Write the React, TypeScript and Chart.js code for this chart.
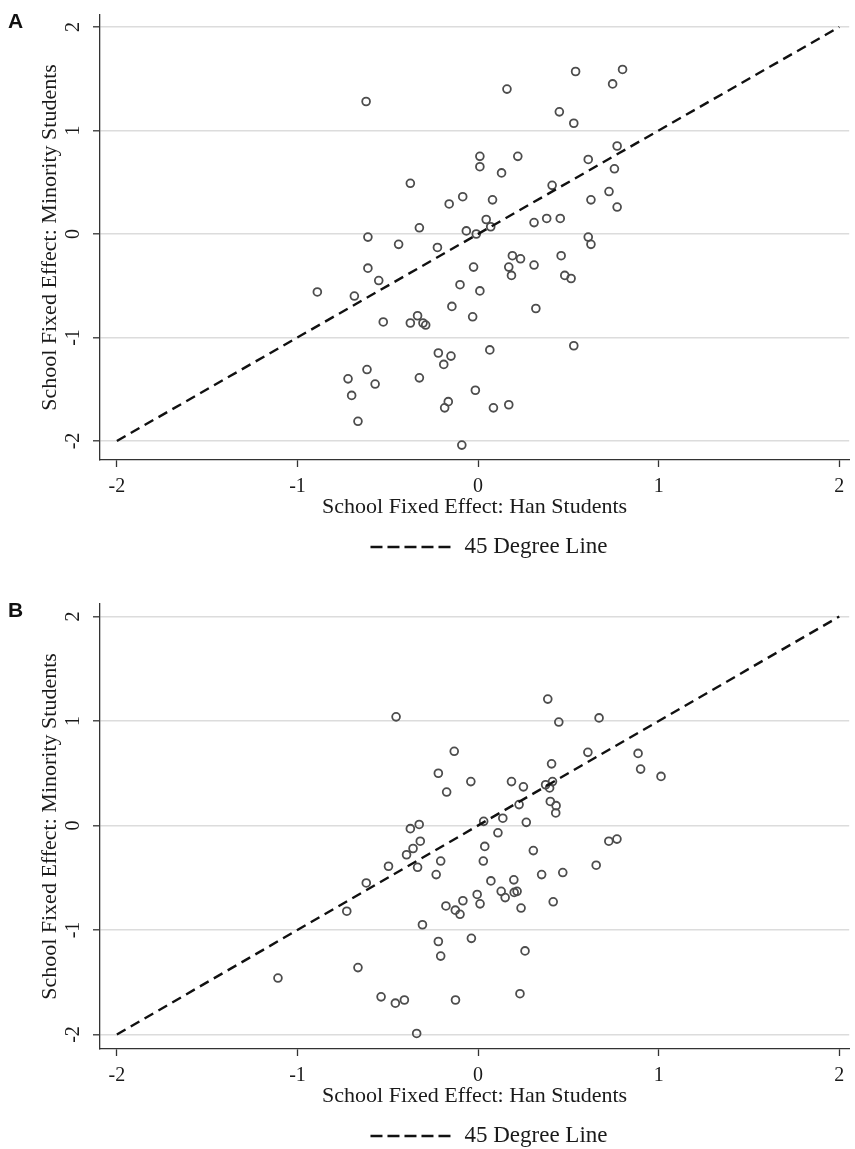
import React, { useEffect, useRef } from "react";
import { Chart, registerables } from "chart.js";

Chart.register(...registerables);

// ---------- data ----------
const X_TICKS = [-2, -1, 0, 1, 2];
const Y_TICKS = [-2, -1, 0, 1, 2];
const X_TITLE = "School Fixed Effect: Han Students";
const Y_TITLE = "School Fixed Effect: Minority Students";
const LINE_LABEL = "45 Degree Line";
const LINE_X = [-2, 2];
const LINE_Y = [-2, 2];

// Panel A: school fixed effects (Han x, Minority y)
const A_HAN = [
  -0.62, 0.16, 0.54, 0.8, 0.745, 0.45, 0.53, 0.01, 0.01, 0.22,
  0.13, -0.375, 0.41, -0.085, -0.16, 0.08, 0.045, 0.07, 0.31, 0.38,
  0.455, -0.065, -0.01, -0.325, -0.61, -0.44, -0.225, 0.77, 0.61, 0.755,
  0.725, 0.625, 0.77, 0.61, 0.625, 0.19, 0.235, 0.46, -0.025, 0.17,
  0.185, 0.31, 0.48, 0.515, -0.61, -0.55, -0.89, -0.685, -0.1, 0.01,
  -0.145, -0.03, 0.32, -0.525, -0.375, -0.335, -0.305, -0.29, 0.53, 0.065,
  -0.22, -0.15, -0.19, -0.615, -0.72, -0.57, -0.325, -0.7, -0.015, -0.165,
  -0.185, 0.085, 0.17, -0.665, -0.09,
];
const A_MIN = [
  1.28, 1.4, 1.57, 1.59, 1.45, 1.18, 1.07, 0.75, 0.65, 0.75,
  0.59, 0.49, 0.47, 0.36, 0.29, 0.33, 0.14, 0.07, 0.11, 0.15,
  0.15, 0.03, 0.0, 0.06, -0.03, -0.1, -0.13, 0.85, 0.72, 0.63,
  0.41, 0.33, 0.26, -0.03, -0.1, -0.21, -0.24, -0.21, -0.32, -0.32,
  -0.4, -0.3, -0.4, -0.43, -0.33, -0.45, -0.56, -0.6, -0.49, -0.55,
  -0.7, -0.8, -0.72, -0.85, -0.86, -0.79, -0.86, -0.88, -1.08, -1.12,
  -1.15, -1.18, -1.26, -1.31, -1.4, -1.45, -1.39, -1.56, -1.51, -1.62,
  -1.68, -1.68, -1.65, -1.81, -2.04,
];

// Panel B
const B_HAN = [
  -0.454, -0.132, -0.22, -0.174, -0.04, -0.375, -0.326, -0.32, -0.36, -0.396,
  0.386, 0.447, 0.67, 0.608, 0.886, 0.9, 1.013, 0.407, 0.185, 0.251,
  0.374, 0.412, 0.396, 0.227, 0.4, 0.432, 0.43, 0.031, 0.137, 0.267,
  0.11, 0.037, 0.724, 0.769, 0.306, -0.496, -0.335, -0.207, -0.232, -0.619,
  -0.727, -0.178, -0.126, -0.1, -0.084, -0.308, -0.037, -0.22, -0.207, -1.108,
  -0.665, -0.537, -0.458, -0.408, -0.125, -0.34, 0.029, 0.654, 0.469, 0.352,
  0.071, 0.198, -0.005, 0.011, 0.128, 0.15, 0.2, 0.216, 0.238, 0.416,
  0.26, 0.232,
];
const B_MIN = [
  1.04, 0.71, 0.5, 0.32, 0.42, -0.03, 0.01, -0.15, -0.22, -0.28,
  1.21, 0.99, 1.03, 0.7, 0.69, 0.54, 0.47, 0.59, 0.42, 0.37,
  0.39, 0.42, 0.36, 0.2, 0.23, 0.19, 0.12, 0.04, 0.07, 0.03,
  -0.07, -0.2, -0.15, -0.13, -0.24, -0.39, -0.4, -0.34, -0.47, -0.55,
  -0.82, -0.77, -0.81, -0.85, -0.72, -0.95, -1.08, -1.11, -1.25, -1.46,
  -1.36, -1.64, -1.7, -1.67, -1.67, -1.99, -0.34, -0.38, -0.45, -0.47,
  -0.53, -0.52, -0.66, -0.75, -0.63, -0.69, -0.64, -0.63, -0.79, -0.73,
  -1.2, -1.61,
];

// ---------- layout / styles ----------
const W = 855;
const H = 560;
const SERIF = "'Liberation Serif', 'Times New Roman', serif";
const TEXT = "#1a1a1a";
const AXIS = "#333333";

type PanelProps = {
  letter: string;
  han: number[];
  minority: number[];
  yMin: number;
  yMax: number;
};

function Panel({ letter, han, minority, yMin, yMax }: PanelProps) {
  const ref = useRef<HTMLCanvasElement | null>(null);

  useEffect(() => {
    const canvas = ref.current;
    if (!canvas) return;

    const textPlugin = {
      id: "stataText",
      afterDraw(chart: any) {
        const { ctx, scales } = chart;
        const ys = scales.y;
        ctx.save();
        ctx.fillStyle = TEXT;
        // y tick labels, rotated
        ctx.font = `20px ${SERIF}`;
        ctx.textAlign = "center";
        ctx.textBaseline = "alphabetic";
        Y_TICKS.forEach((v) => {
          const py = ys.getPixelForValue(v);
          ctx.save();
          ctx.translate(79, py);
          ctx.rotate(-Math.PI / 2);
          ctx.fillText(String(v), 0, 0);
          ctx.restore();
        });
        // legend
        const ly = 547;
        ctx.font = `23px ${SERIF}`;
        const tw = ctx.measureText(LINE_LABEL).width;
        const lineLen = 80;
        const gap = 14;
        const total = lineLen + gap + tw;
        const x0 = 489 - total / 2;
        ctx.strokeStyle = "#111";
        ctx.lineWidth = 2.6;
        ctx.setLineDash([12, 5]);
        ctx.beginPath();
        ctx.moveTo(x0, ly);
        ctx.lineTo(x0 + lineLen, ly);
        ctx.stroke();
        ctx.setLineDash([]);
        ctx.textAlign = "left";
        ctx.textBaseline = "middle";
        ctx.fillText(LINE_LABEL, x0 + lineLen + gap, ly);
        // panel letter
        ctx.fillStyle = "#111";
        ctx.font = `bold 21px 'Liberation Sans', Arial, sans-serif`;
        ctx.textBaseline = "alphabetic";
        ctx.fillText(letter, 8, 28);
        ctx.restore();
      },
    };

    const chart = new Chart(canvas, {
      type: "scatter",
      data: {
        datasets: [
          {
            label: LINE_LABEL,
            data: LINE_X.map((x, i) => ({ x, y: LINE_Y[i] })),
            showLine: true,
            borderColor: "#111111",
            borderWidth: 2.4,
            borderDash: [10, 6],
            pointRadius: 0,
            fill: false,
          } as any,
          {
            label: "Schools",
            data: han.map((x, i) => ({ x, y: minority[i] })),
            pointStyle: "circle",
            pointRadius: 3.9,
            pointBorderWidth: 1.8,
            pointBorderColor: "#4d4d4d",
            pointBackgroundColor: "rgba(0,0,0,0)",
            borderColor: "#4d4d4d",
            backgroundColor: "rgba(0,0,0,0)",
            showLine: false,
          } as any,
        ],
      },
      options: {
        responsive: false,
        animation: false,
        devicePixelRatio: 1,
        layout: { padding: { top: 15, left: 0, right: 0, bottom: 0 } },
        plugins: {
          legend: { display: false },
          tooltip: { enabled: false },
          title: { display: false },
        },
        scales: {
          x: {
            type: "linear",
            min: -2.0934,
            max: 2.055,
            afterBuildTicks: (s: any) => {
              s.ticks = X_TICKS.map((v) => ({ value: v }));
            },
            afterFit: (s: any) => {
              s.height = H - 460;
            },
            grid: {
              drawOnChartArea: false,
              drawTicks: true,
              tickLength: 7,
              tickColor: AXIS,
              tickWidth: 1.3,
            },
            border: { display: true, color: AXIS, width: 1.3 },
            ticks: {
              font: { family: SERIF, size: 20 },
              color: TEXT,
              padding: 8,
              minRotation: 0,
              maxRotation: 0,
              autoSkip: false,
              callback: (v: any) => String(v),
            },
            title: {
              display: true,
              text: X_TITLE,
              font: { family: SERIF, size: 22 },
              color: TEXT,
              padding: { top: 0, bottom: 40 },
            },
          },
          y: {
            type: "linear",
            min: yMin,
            max: yMax,
            afterBuildTicks: (s: any) => {
              s.ticks = Y_TICKS.map((v) => ({ value: v }));
            },
            afterFit: (s: any) => {
              s.width = 100;
            },
            grid: {
              color: "#dcdcdc",
              lineWidth: 1.6,
              drawTicks: true,
              tickLength: 7,
              tickColor: AXIS,
              tickWidth: 1.3,
            },
            border: { display: true, color: AXIS, width: 1.3 },
            ticks: { display: false },
            title: {
              display: true,
              text: Y_TITLE,
              font: { family: SERIF, size: 22 },
              color: TEXT,
              padding: { top: 37, bottom: 0 },
            },
          },
        },
      } as any,
      plugins: [textPlugin],
    });

    return () => chart.destroy();
  }, [letter, han, minority, yMin, yMax]);

  return <canvas ref={ref} width={W} height={H} style={{ display: "block", width: W, height: H }} />;
}

export default function App() {
  return (
    <div
      style={{
        position: "absolute",
        left: 0,
        top: 0,
        width: W,
        height: 1149,
        overflow: "hidden",
        background: "#ffffff",
      }}
    >
      <div style={{ position: "absolute", left: 0, top: 0 }}>
        <Panel letter="A" han={A_HAN} minority={A_MIN} yMin={-2.184} yMax={2.116} />
      </div>
      <div style={{ position: "absolute", left: 0, top: 589 }}>
        <Panel letter="B" han={B_HAN} minority={B_MIN} yMin={-2.139} yMax={2.12} />
      </div>
    </div>
  );
}
